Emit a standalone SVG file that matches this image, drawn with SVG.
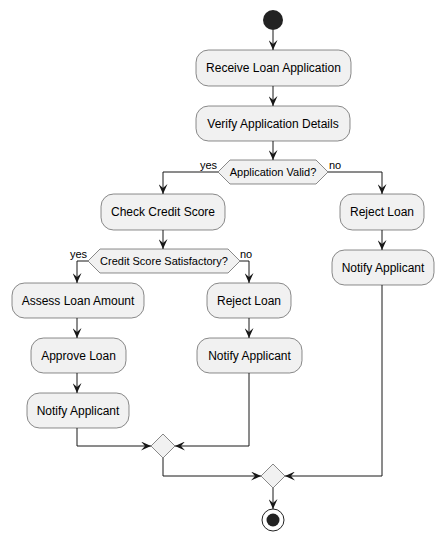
<svg xmlns="http://www.w3.org/2000/svg" width="444" height="540" viewBox="0 0 444 540">
<style>
.box{fill:#F1F1F1;stroke:#181818;stroke-width:0.5}
.t{font-family:"Liberation Sans",Arial,sans-serif;font-size:12px;fill:#000;text-anchor:middle}
.d{font-family:"Liberation Sans",Arial,sans-serif;font-size:11px;fill:#000;text-anchor:middle}
.l{font-family:"Liberation Sans",Arial,sans-serif;font-size:11px;fill:#000}
.c{fill:none;stroke:#181818;stroke-width:1}
</style>
<defs>
<marker id="a" viewBox="0 0 10 9" refX="10" refY="4.5" markerWidth="10" markerHeight="9" orient="auto" markerUnits="userSpaceOnUse">
<path d="M0,0 L10,4.5 L0,9 L4,4.5 Z" fill="#181818"/>
</marker>
</defs>
<g id="connectors">
<path class="c" d="M273,30 V50" marker-end="url(#a)"/>
<path class="c" d="M273,86 V106" marker-end="url(#a)"/>
<path class="c" d="M273,141 V160" marker-end="url(#a)"/>
<path class="c" d="M218,172 H163 V194" marker-end="url(#a)"/>
<path class="c" d="M328,172 H382 V194" marker-end="url(#a)"/>
<path class="c" d="M163,230 V249" marker-end="url(#a)"/>
<path class="c" d="M88,261 H77 V283" marker-end="url(#a)"/>
<path class="c" d="M240,261 H249 V283" marker-end="url(#a)"/>
<path class="c" d="M77,318 V338" marker-end="url(#a)"/>
<path class="c" d="M249,318 V338" marker-end="url(#a)"/>
<path class="c" d="M77,373 V393" marker-end="url(#a)"/>
<path class="c" d="M382,230 V250" marker-end="url(#a)"/>
<path class="c" d="M77,428 V446 H151" marker-end="url(#a)"/>
<path class="c" d="M249,373 V446 H175" marker-end="url(#a)"/>
<path class="c" d="M163,458 V476 H261" marker-end="url(#a)"/>
<path class="c" d="M382,285 V476 H285" marker-end="url(#a)"/>
<path class="c" d="M273,488 V509" marker-end="url(#a)"/>
<text class="l" x="217" y="169" text-anchor="end">yes</text>
<text class="l" x="329" y="169">no</text>
<text class="l" x="87" y="258" text-anchor="end">yes</text>
<text class="l" x="240" y="258">no</text>
</g>
<g id="start"><circle cx="273" cy="20" r="10" fill="#222222"/></g>
<g id="receive"><rect class="box" x="196" y="50" width="155" height="36" rx="12.5"/><text class="t" x="273.5" y="72">Receive Loan Application</text></g>
<g id="verify"><rect class="box" x="196" y="106" width="154" height="35" rx="12.5"/><text class="t" x="273" y="128">Verify Application Details</text></g>
<g id="valid"><polygon class="box" points="218,172 230,160 316,160 328,172 316,184 230,184"/><text class="d" x="273" y="176">Application Valid?</text></g>
<g id="credit"><rect class="box" x="101" y="194" width="124" height="36" rx="12.5"/><text class="t" x="163" y="216">Check Credit Score</text></g>
<g id="reject1"><rect class="box" x="340" y="194" width="84" height="36" rx="12.5"/><text class="t" x="382" y="216">Reject Loan</text></g>
<g id="satisf"><polygon class="box" points="88,261 100,249 228,249 240,261 228,273 100,273"/><text class="d" x="164" y="265">Credit Score Satisfactory?</text></g>
<g id="notify1"><rect class="box" x="332" y="250" width="102" height="35" rx="12.5"/><text class="t" x="383" y="272">Notify Applicant</text></g>
<g id="assess"><rect class="box" x="12" y="283" width="132" height="35" rx="12.5"/><text class="t" x="78" y="305">Assess Loan Amount</text></g>
<g id="reject2"><rect class="box" x="207" y="283" width="84" height="35" rx="12.5"/><text class="t" x="249" y="305">Reject Loan</text></g>
<g id="approve"><rect class="box" x="31" y="338" width="95" height="35" rx="12.5"/><text class="t" x="78.5" y="360">Approve Loan</text></g>
<g id="notify2"><rect class="box" x="197" y="338" width="105" height="35" rx="12.5"/><text class="t" x="249.5" y="360">Notify Applicant</text></g>
<g id="notify3"><rect class="box" x="27" y="393" width="102" height="35" rx="12.5"/><text class="t" x="78" y="415">Notify Applicant</text></g>
<g id="merge1"><polygon class="box" points="151,446 163,434 175,446 163,458"/></g>
<g id="merge2"><polygon class="box" points="261,476 273,464 285,476 273,488"/></g>
<g id="end"><circle cx="273" cy="520" r="11" fill="none" stroke="#222222" stroke-width="1"/><circle cx="273" cy="520" r="6.5" fill="#222222"/></g>
</svg>
